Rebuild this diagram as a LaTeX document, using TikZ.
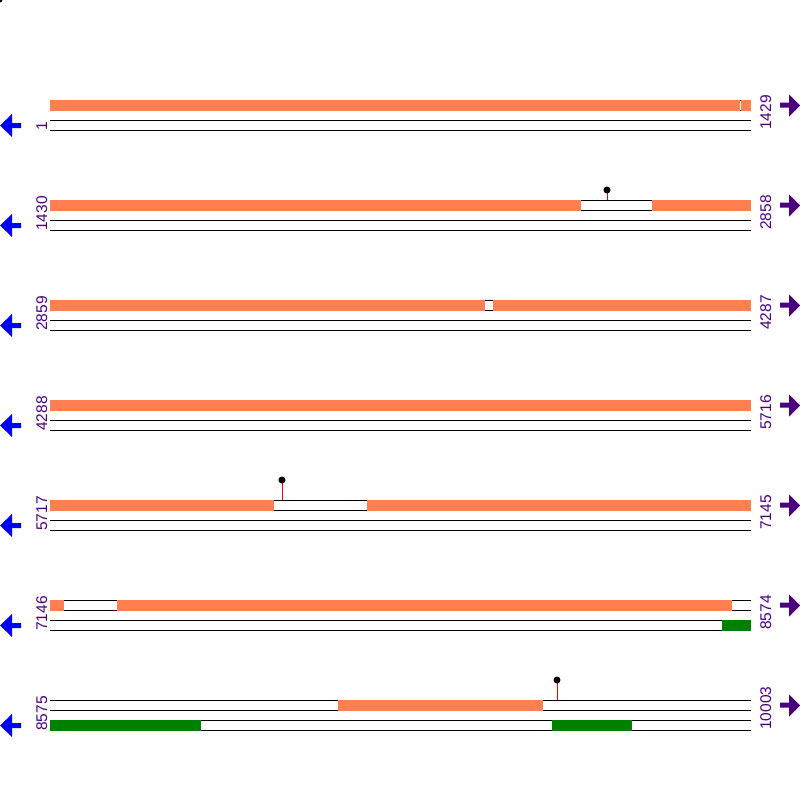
\documentclass[tikz,border=0pt]{standalone}
\usepackage{fontspec}
\setmainfont{Liberation Sans}
\definecolor{coral}{HTML}{FF7F50}
\definecolor{dgreen}{HTML}{008000}
\definecolor{indig}{HTML}{4B0082}
\begin{document}
\begin{tikzpicture}[x=1pt,y=-1pt,
  trk/.style={line width=1pt,black},
  feat/.style={fill=coral},
  gfeat/.style={fill=dgreen},
  gap/.style={fill=white},
  lab/.style={rotate=90,anchor=base west,inner sep=0pt,text=indig,font=\fontsize{15.5}{16}\selectfont},
  larr/.style={fill=blue},
  rarr/.style={fill=indig},
  stem/.style={red,line width=1pt},
  knob/.style={fill=black}]
\useasboundingbox (0,0) rectangle (800,800);
\fill (0,0) circle (2.5);
% rows
\foreach \r/\a/\b [count=\i from 0] in {1/1429,1430/2858,2859/4287,4288/5716,5717/7145,7146/8574,8575/10003}{
  \pgfmathsetmacro{\y}{100+100*\i}
  \draw[trk] (50,\y) -- (751,\y);
  \draw[trk] (50,\y+10) -- (751,\y+10);
  \draw[trk] (50,\y+20) -- (751,\y+20);
  \draw[trk] (50,\y+30) -- (751,\y+30);
  \node[lab] (L\i) at (47,\y+31) {\r};
  \node[lab] (R\i) at (771,\y+30) {\b};
  \fill[larr] (0,\y+25.5) -- (12,\y+14) -- (12,\y+23) -- (21,\y+23) -- (21,\y+28) -- (12,\y+28) -- (12,\y+37) -- cycle;
  \fill[rarr] (800,\y+5.5) -- (789,\y-5.5) -- (789,\y+2.7) -- (780,\y+2.7) -- (780,\y+7.7) -- (789,\y+7.7) -- (789,\y+16.5) -- cycle;
}
% row 1
\fill[feat] (50,99.5) rectangle (739.5,110.5);
\fill[feat] (741,99.5) rectangle (751,110.5);
\draw[black,line width=0.5pt] (740.2,100) -- (740.2,110);
\fill[gap] (739.6,100.5) rectangle (740.9,109.5);
% row 2
\fill[feat] (50,199.5) rectangle (581,210.5);
\fill[feat] (652,199.5) rectangle (751,210.5);
\draw[stem] (607,200) -- (607,191);
\fill[knob] (607,190) circle (3.5);
% row 3
\fill[feat] (50,299.5) rectangle (485,310.5);
\fill[feat] (493,299.5) rectangle (751,310.5);
% row 4
\fill[feat] (50,399.5) rectangle (751,410.5);
% row 5
\fill[feat] (50,499.5) rectangle (274,510.5);
\fill[feat] (367,499.5) rectangle (751,510.5);
\draw[stem] (282,500) -- (282,481);
\fill[knob] (282,480) circle (3.5);
% row 6
\fill[feat] (50,599.5) rectangle (64,610.5);
\fill[feat] (117,599.5) rectangle (732,610.5);
\fill[gfeat] (722,619.5) rectangle (751,630.5);
% row 7
\fill[feat] (338,699.5) rectangle (543,710.5);
\fill[gfeat] (50,719.5) rectangle (201,730.5);
\fill[gfeat] (552,719.5) rectangle (632,730.5);
\draw[stem] (557,700) -- (557,681);
\fill[knob] (557,680) circle (3.5);
\end{tikzpicture}
\end{document}
